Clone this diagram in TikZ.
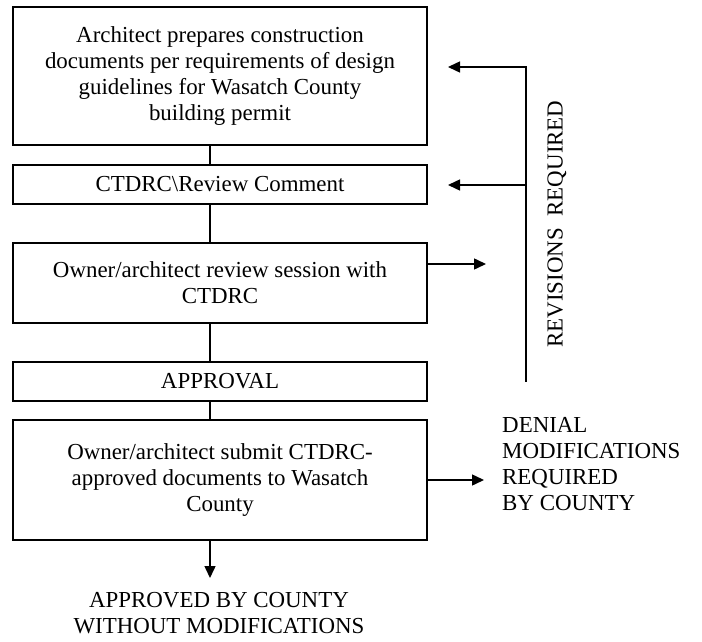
\documentclass[tikz,border=0pt]{standalone}
\usepackage{fontspec}
\setmainfont{Liberation Serif}
\usetikzlibrary{arrows.meta}

\begin{document}
\begin{tikzpicture}[x=1bp,y=-1bp,
every node/.style={font=\fontsize{23}{26}\selectfont},
box/.style={draw,line width=1.8bp,minimum width=414bp,align=center,inner sep=0pt},
link/.style={line width=1.5bp},
arr/.style={line width=1.5bp,-{Triangle[length=12bp,width=11bp]}},
back/.style={line width=1.5bp,{Triangle[length=12bp,width=11bp]}-}]

\useasboundingbox (0,0) rectangle (702,642);

\coordinate (ax) at (210,0);

\node[box,minimum height=138bp] (b1) at (220,76) {Architect prepares construction\\documents per requirements of design\\guidelines for Wasatch County\\building permit};
\node[box,minimum height=39bp] (b2) at (220,184.5) {CTDRC\textbackslash Review Comment};
\node[box,minimum height=80bp] (b3) at (220,283) {Owner/architect review session with\\CTDRC};
\node[box,minimum height=39bp] (b4) at (220,381.5) {APPROVAL};
\node[box,minimum height=120bp] (b5) at (220,480) {Owner/architect submit CTDRC-\\approved documents to Wasatch\\County};

\draw[link] (b1.south -| ax) -- (b2.north -| ax);
\draw[link] (b2.south -| ax) -- (b3.north -| ax);
\draw[link] (b3.south -| ax) -- (b4.north -| ax);
\draw[link] (b4.south -| ax) -- (b5.north -| ax);

\coordinate (t1) at (526,67);
\coordinate (t2) at (526,185);
\coordinate (t3) at (526,382);
\coordinate (r1) at (448,67);
\coordinate (r2) at (448,185);
\coordinate (d3) at (486,264);
\coordinate (d5) at (484,480);
\coordinate (out) at (210,578);

\draw[back] (r1) -- (t1) -- (t3);
\draw[back] (r2) -- (t2);
\draw[arr] (b3.east |- d3) -- (d3);
\draw[arr] (b5.east) -- (d5);
\draw[arr] (b5.south -| ax) -- (out);

\node[rotate=90] (rev) at (557,224) {REVISIONS\ \ REQUIRED};
\node[anchor=west,align=left,inner sep=0pt] (deny) at (502,464) {DENIAL\\MODIFICATIONS\\REQUIRED\\BY COUNTY};
\node[align=center] (ok) at (219,613) {APPROVED BY COUNTY\\WITHOUT MODIFICATIONS};
\end{tikzpicture}
\end{document}
